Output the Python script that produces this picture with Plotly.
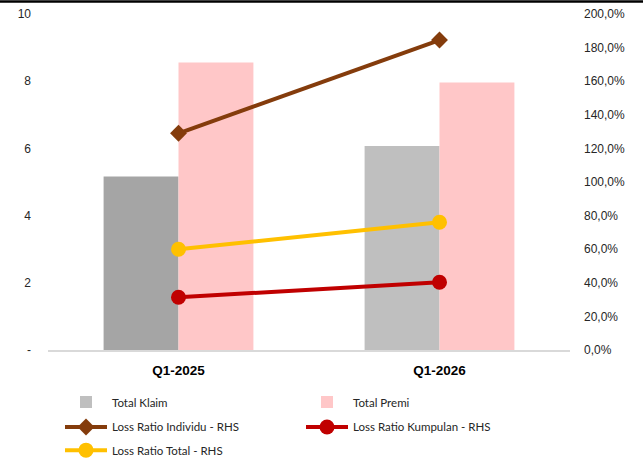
import plotly.graph_objects as go

# Categories and values
quarters = ["Q1-2025", "Q1-2026"]
total_klaim = [5.16, 6.07]
total_premi = [8.56, 7.96]
lr_individu = [1.29, 1.845]
lr_kumpulan = [0.314, 0.403]
lr_total = [0.60, 0.76]

left_ticks = [0, 2, 4, 6, 8, 10]
left_ticktext = ["-", "2", "4", "6", "8", "10"]
right_ticks = [0, 0.2, 0.4, 0.6, 0.8, 1.0, 1.2, 1.4, 1.6, 1.8, 2.0]
right_ticktext = ["0,0%", "20,0%", "40,0%", "60,0%", "80,0%", "100,0%",
                  "120,0%", "140,0%", "160,0%", "180,0%", "200,0%"]

klaim_colors = ["#A5A5A5", "#BFBFBF"]

fig = go.Figure()

# Bars: listed latest-first so the legend swatch takes the lighter grey
fig.add_trace(go.Bar(
    name="Total Klaim", x=quarters[::-1], y=total_klaim[::-1],
    marker=dict(color=klaim_colors[::-1], line=dict(width=0)),
    offset=-0.287, width=0.287, legend="legend",
))
fig.add_trace(go.Bar(
    name="Total Premi", x=quarters, y=total_premi,
    marker=dict(color="#FFC7C8", line=dict(width=0)),
    offset=0.0, width=0.287, legend="legend",
))

fig.add_trace(go.Scatter(
    name="Loss Ratio Individu - RHS", x=quarters, y=lr_individu, yaxis="y2",
    mode="lines+markers", line=dict(color="#843C0C", width=4),
    marker=dict(symbol="diamond", size=13, color="#843C0C"),
    legend="legend2",
))
fig.add_trace(go.Scatter(
    name="Loss Ratio Kumpulan - RHS", x=quarters, y=lr_kumpulan, yaxis="y2",
    mode="lines+markers", line=dict(color="#C00000", width=4),
    marker=dict(symbol="circle", size=15, color="#C00000"),
    legend="legend2",
))
fig.add_trace(go.Scatter(
    name="Loss Ratio Total - RHS", x=quarters, y=lr_total, yaxis="y2",
    mode="lines+markers", line=dict(color="#FFC000", width=4),
    marker=dict(symbol="circle", size=15, color="#FFC000"),
    legend="legend3",
))

tick_font = dict(family="Liberation Sans, Arial, sans-serif", size=12, color="#262626")
legend_font = dict(family="Lato, Liberation Sans, sans-serif", size=11.5, color="#262626")


def legend_row(y):
    return dict(
        orientation="h", x=0.023, xanchor="left", y=y, yanchor="middle",
        entrywidth=184, entrywidthmode="pixels", itemwidth=42,
        traceorder="normal", font=legend_font, bgcolor="rgba(0,0,0,0)",
    )


fig.update_layout(
    width=643, height=458,
    margin=dict(l=48, r=73, t=14, b=108, autoexpand=False),
    paper_bgcolor="white", plot_bgcolor="white",
    barmode="overlay",
    showlegend=True,
    xaxis=dict(
        type="category", categoryorder="array", categoryarray=quarters,
        range=[-0.5, 1.5],
        showgrid=False, zeroline=False,
        showline=True, linecolor="#D9D9D9", linewidth=1.5,
        ticks="", ticklabelstandoff=7,
        tickfont=dict(family="Liberation Sans, Arial, sans-serif", size=13.5,
                      color="#000000", weight="bold"),
    ),
    yaxis=dict(
        range=[0, 10], tickvals=left_ticks, ticktext=left_ticktext,
        showgrid=False, zeroline=False, showline=False, ticks="",
        ticklabelstandoff=16, tickfont=tick_font,
    ),
    yaxis2=dict(
        range=[0, 2.0], tickvals=right_ticks, ticktext=right_ticktext,
        overlaying="y", side="right",
        showgrid=False, zeroline=False, showline=False, ticks="",
        ticklabelstandoff=13, tickfont=tick_font,
    ),
    legend=legend_row(-0.155),
    legend2=legend_row(-0.229),
    legend3=legend_row(-0.298),
    shapes=[dict(
        type="line", xref="paper", yref="paper",
        x0=-0.1, x1=1.15, y0=1.037, y1=1.037,
        line=dict(color="#000000", width=2.5),
    )],
)

fig.write_html("out.html")
